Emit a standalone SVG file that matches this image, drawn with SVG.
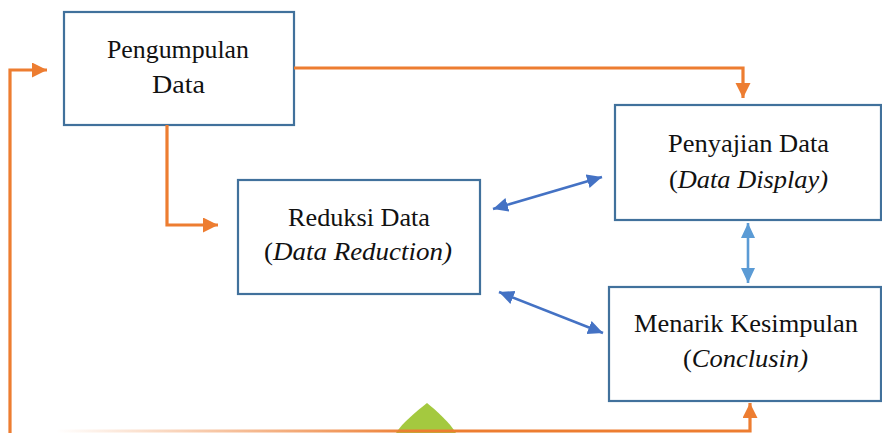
<svg xmlns="http://www.w3.org/2000/svg" width="882" height="433" viewBox="0 0 882 433">
<style>
.box{fill:#fff;stroke:#41719c;stroke-width:2.2}
.t{font-family:"Liberation Serif","Times New Roman",serif;font-size:25px;fill:#111}
.i{font-style:italic}
.or{fill:none;stroke:#ed7d31;stroke-width:3.2}
.bl{fill:none;stroke:#4472c4;stroke-width:2.6}
.lb{fill:none;stroke:#5b9bd5;stroke-width:2.6}
</style>
<defs>
<marker id="ao" markerUnits="userSpaceOnUse" markerWidth="16" markerHeight="16" refX="15" refY="7.5" orient="auto"><path d="M0,0 L15,7.5 L0,15 z" fill="#ed7d31"/></marker>
<marker id="ab" markerUnits="userSpaceOnUse" markerWidth="16" markerHeight="16" refX="15" refY="7" orient="auto-start-reverse"><path d="M0,0 L15,7 L0,14 z" fill="#4472c4"/></marker>
<marker id="al" markerUnits="userSpaceOnUse" markerWidth="16" markerHeight="16" refX="15" refY="7" orient="auto-start-reverse"><path d="M0,0 L15,7 L0,14 z" fill="#5b9bd5"/></marker>
<linearGradient id="fade" gradientUnits="userSpaceOnUse" x1="56" y1="0" x2="420" y2="0">
<stop offset="0" stop-color="#ed7d31" stop-opacity="0"/>
<stop offset="1" stop-color="#ed7d31" stop-opacity="1"/>
</linearGradient>
</defs>
<rect width="882" height="433" fill="#fff"/>
<path d="M427,403 C418,410 402,423 396,433 L456,433 C450,423 436,410 427,403 z" fill="#a4c93f"/>
<g id="n1"><rect class="box" x="64" y="12" width="230" height="113"/>
<text class="t" x="178" y="58" text-anchor="middle" textLength="142" lengthAdjust="spacingAndGlyphs">Pengumpulan</text>
<text class="t" x="178.5" y="93" text-anchor="middle" textLength="53" lengthAdjust="spacingAndGlyphs">Data</text></g>
<g id="n2"><rect class="box" x="238" y="180" width="242" height="114"/>
<text class="t" x="359" y="226" text-anchor="middle" textLength="142" lengthAdjust="spacingAndGlyphs">Reduksi Data</text>
<text class="t" x="358" y="260" text-anchor="middle" textLength="188" lengthAdjust="spacingAndGlyphs">(<tspan class="i">Data Reduction)</tspan></text></g>
<g id="n3"><rect class="box" x="615" y="105" width="266" height="115"/>
<text class="t" x="748.5" y="152" text-anchor="middle" textLength="161" lengthAdjust="spacingAndGlyphs">Penyajian Data</text>
<text class="t" x="748.5" y="188" text-anchor="middle" textLength="159" lengthAdjust="spacingAndGlyphs">(<tspan class="i">Data Display)</tspan></text></g>
<g id="n4"><rect class="box" x="609" y="287" width="272" height="114"/>
<text class="t" x="746" y="332" text-anchor="middle" textLength="224" lengthAdjust="spacingAndGlyphs">Menarik Kesimpulan</text>
<text class="t" x="745.5" y="367" text-anchor="middle" textLength="125" lengthAdjust="spacingAndGlyphs">(<tspan class="i">Conclusin)</tspan></text></g>
<g id="connectors">
<polyline class="or" points="10,433 10,70 47,70" marker-end="url(#ao)"/>
<polyline class="or" points="56,431 750,431 750,403" style="stroke:url(#fade)" marker-end="url(#ao)"/>
<polyline class="or" points="294,68 743,68 743,98" marker-end="url(#ao)"/>
<polyline class="or" points="167,125 167,225 218,225" marker-end="url(#ao)"/>
<line class="bl" x1="493" y1="209" x2="602" y2="177" marker-start="url(#ab)" marker-end="url(#ab)"/>
<line class="bl" x1="499" y1="292" x2="603" y2="333" marker-start="url(#ab)" marker-end="url(#ab)"/>
<line class="lb" x1="748" y1="223" x2="748" y2="283" marker-start="url(#al)" marker-end="url(#al)"/>
</g>
</svg>
